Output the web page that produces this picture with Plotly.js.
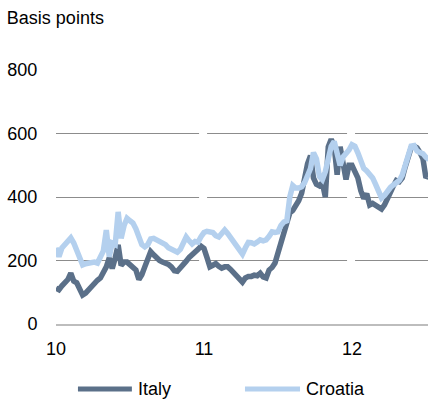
<!DOCTYPE html>
<html>
<head>
<meta charset="utf-8">
<script src="https://cdn.plot.ly/plotly-3.0.1.min.js"></script>
<style>
  html, body { margin: 0; padding: 0; background: #fff; }
  #chart { width: 428px; height: 399px; }
</style>
</head>
<body>
<div id="chart"></div>
<script>
// Time axis in years (10 = start of 2010), roughly weekly observations
const years = [
  10.00,10.02,10.04,10.06,10.08,10.10,10.12,10.14,10.16,10.18,
  10.20,10.22,10.24,10.26,10.28,10.30,10.32,10.34,10.36,10.38,
  10.40,10.42,10.44,10.46,10.48,10.50,10.52,10.54,10.56,10.58,
  10.60,10.62,10.64,10.66,10.68,10.70,10.72,10.74,10.76,10.78,
  10.80,10.82,10.84,10.86,10.88,10.90,10.92,10.94,10.96,10.98,
  11.00,11.02,11.04,11.06,11.08,11.10,11.12,11.14,11.16,11.18,
  11.20,11.22,11.24,11.26,11.28,11.30,11.32,11.34,11.36,11.38,
  11.40,11.42,11.44,11.46,11.48,11.50,11.52,11.54,11.56,11.58,
  11.60,11.62,11.64,11.66,11.68,11.70,11.72,11.74,11.76,11.78,
  11.80,11.82,11.84,11.86,11.88,11.90,11.92,11.94,11.96,11.98,
  12.00,12.02,12.04,12.06,12.08,12.10,12.12,12.14,12.16,12.18,
  12.20,12.22,12.24,12.26,12.28,12.30,12.32,12.34,12.36,12.38,
  12.40,12.42,12.44,12.46,12.48,12.50,12.52
];

// Spreads, basis points
const italy = [
  113,108,120,128,140,160,135,130,110,91,
  97,108,120,128,138,145,160,180,208,175,
  208,249,185,195,195,185,176,170,140,155,
  180,205,228,218,208,200,195,193,188,180,
  168,166,175,183,198,210,217,224,235,245,
  238,210,180,185,190,182,176,180,180,172,
  163,155,140,132,145,150,150,154,152,160,
  148,145,170,178,192,224,252,285,320,350,
  358,370,388,412,460,505,530,460,440,435,
  445,400,558,582,560,470,558,500,455,500,
  500,480,460,420,395,410,375,380,375,366,
  362,375,400,415,435,452,448,460,495,530,
  555,560,555,540,520,460,470
];

const croatia = [
  240,212,240,252,262,271,255,233,215,186,
  190,192,194,195,192,208,230,296,212,255,
  250,353,270,310,333,325,318,300,280,250,
  243,250,268,270,265,260,257,250,240,235,
  228,226,235,260,274,262,252,260,258,275,
  288,292,291,288,278,274,285,296,285,272,
  258,246,228,220,240,257,256,252,258,265,
  262,265,276,290,288,290,310,321,325,400,
  436,428,428,432,445,465,490,540,520,465,
  455,480,517,560,575,530,500,526,535,548,
  565,560,539,510,490,482,473,460,440,412,
  397,405,420,430,438,445,452,469,500,535,
  560,562,545,540,536,525,518
];

const seriesNames = ['Italy', 'Croatia'];
const seriesColors = ['#5b7089', '#b4d0ee'];

const xTickVals = [10, 11, 12];
const xTickText = ['10', '11', '12'];
const yTickVals = [0, 200, 400, 600, 800];

const font = { family: 'Liberation Sans, Arial, sans-serif', size: 18, color: '#000' };

const traces = [italy, croatia].map((vals, i) => ({
  type: 'scatter',
  mode: 'lines',
  x: years,
  y: vals,
  name: seriesNames[i],
  line: { color: seriesColors[i], width: 5.5 },
  showlegend: false,
  hoverinfo: 'skip'
}));

// Legend drawn as line samples plus text beneath the plot
const legendSamples = [[0.059, 0.204], [0.508, 0.656]];
const legendShapes = legendSamples.map((s, i) => ({
  type: 'line', xref: 'paper', yref: 'paper',
  x0: s[0], x1: s[1], y0: -0.256, y1: -0.256,
  line: { color: seriesColors[i], width: 5 }
}));
const legendLabels = seriesNames.map((n, i) => ({
  xref: 'paper', yref: 'paper',
  x: legendSamples[i][1] + 0.012, y: -0.256,
  xanchor: 'left', yanchor: 'middle',
  text: n, showarrow: false, font: font
}));

// Small white breaks in the horizontal gridlines at each year boundary
const gridBreaks = xTickVals.slice(1).map(v => ({
  type: 'line', xref: 'x', yref: 'y', layer: 'between',
  x0: v - 0.006, x1: v - 0.006, y0: 20, y1: 805,
  line: { color: '#ffffff', width: 8 }
}));

const layout = {
  width: 428,
  height: 399,
  margin: { l: 56, r: 0, t: 70, b: 75 },
  paper_bgcolor: '#fff',
  plot_bgcolor: '#fff',
  font: font,
  title: {
    text: 'Basis points',
    font: font,
    xref: 'container', yref: 'container',
    x: 0.016, xanchor: 'left',
    y: 1 - 18 / 399, yanchor: 'middle'
  },
  xaxis: {
    range: [10, 12.514],
    tickmode: 'array',
    tickvals: xTickVals,
    ticktext: xTickText,
    showgrid: false,
    zeroline: false,
    showline: true,
    linecolor: '#bdbdbd',
    linewidth: 2,
    ticks: 'outside',
    ticklen: 7,
    tickcolor: 'rgba(0,0,0,0)',
    tickfont: font,
    fixedrange: true
  },
  yaxis: {
    range: [0, 800],
    tickmode: 'array',
    tickvals: yTickVals,
    showgrid: true,
    gridcolor: '#8c8c8c',
    gridwidth: 1,
    zeroline: false,
    showline: false,
    ticks: 'outside',
    ticklen: 14,
    tickcolor: 'rgba(0,0,0,0)',
    tickfont: font,
    fixedrange: true
  },
  shapes: gridBreaks.concat(legendShapes),
  annotations: legendLabels,
  showlegend: false
};

Plotly.newPlot('chart', traces, layout, { displayModeBar: false, staticPlot: true });
</script>
</body>
</html>
